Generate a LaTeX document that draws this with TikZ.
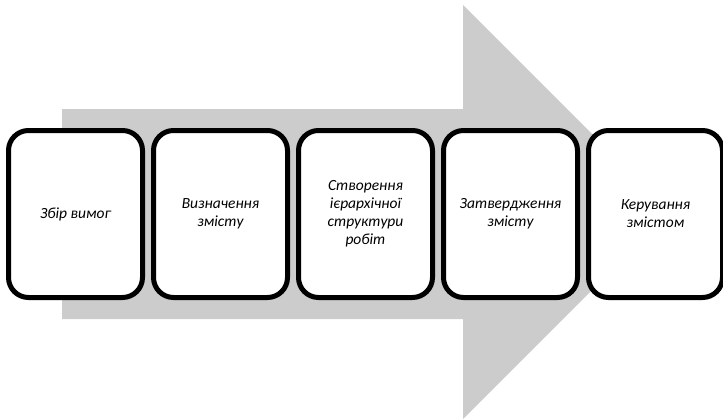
\documentclass[tikz,border=0pt]{standalone}
\usepackage{fontspec}
\setmainfont{Carlito}
\usepackage{tikz}
\usetikzlibrary{positioning}
\definecolor{arrowgray}{RGB}{204,204,204}

\begin{document}
\begin{tikzpicture}[x=1pt, y=-1pt,
		stage/.style={draw=black, line width=5pt, fill=white, rounded corners=20pt,
			minimum width=134pt, minimum height=167pt, inner sep=2pt,
			align=center, font=\fontsize{15.5}{18}\selectfont\itshape}]
			\useasboundingbox (0 ,0 ) rectangle (723 , 420);
			\fill[arrowgray] (62 ,109 ) -- (463 , 109) -- (463 , 5) -- (670 , 212) -- (463 , 419) -- (463 , 319) -- (62 , 319)--cycle;
			\node[stage] (zbir) at (75.5 , 214) {Збір вимог};
			\node[stage, right=6pt of zbir] (vyznach) {Визначення\\змісту};
			\node[stage, right=6pt of vyznach] (ierarkh) {Створення\\ієрархічної\\структури\\робіт};
			\node[stage, right=6pt of ierarkh] (zatverd) {Затвердження\\змісту};
			\node[stage, right=6pt of zatverd] (keruv) {Керування\\змістом};
\end{tikzpicture}
\end{document}
